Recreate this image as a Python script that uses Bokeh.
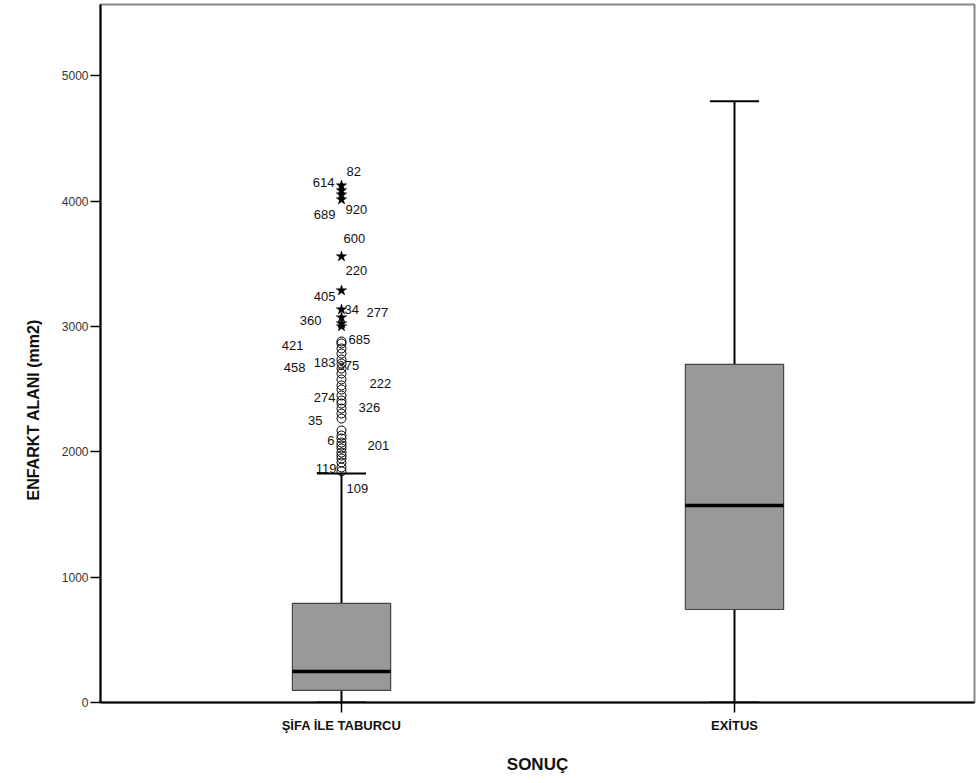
from bokeh.plotting import figure
from bokeh.models import ColumnDataSource, FixedTicker, Range1d, Title
from bokeh.core.properties import value
from bokeh.embed import file_html
from bokeh.resources import INLINE

# ---- data ----
categories = ["ŞİFA İLE TABURCU", "EXİTUS"]
positions = [1, 2]
lower_whisker = [0, 0]
q1 = [96, 742]
median = [247, 1572]
q3 = [790, 2697]
upper_whisker = [1827, 4796]

# outliers of group 1 (ŞİFA İLE TABURCU)
circle_outliers = [2880, 2864, 2824, 2784, 2736, 2704, 2664, 2624, 2577, 2529, 2497,
                   2449, 2409, 2385, 2345, 2305, 2265, 2170, 2130, 2106, 2074, 2050,
                   2026, 1994, 1970, 1946, 1914, 1875, 1845]
star_outliers = [4124, 4084, 4052, 4012, 3558, 3287, 3135, 3071, 3023, 3000]

label_texts = ["82", "614", "689", "920", "600", "220", "405", "34", "277", "360",
               "685", "421", "458", "183", "375", "222", "274", "326", "35", "6",
               "201", "119", "109"]
label_values = [4236, 4148, 3893, 3933, 3701, 3446, 3239, 3135, 3111, 3047,
                2896, 2848, 2672, 2712, 2688, 2545, 2433, 2353, 2250, 2090,
                2050, 1866, 1707]
label_dx = [5, -7, -6, 4, 2, 4, -6, 3, 25, -20,
            7, -38, -36, -6, -4, 28, -6, 17, -19, -7,
            26, -5, 5]
label_align = ["left", "right", "right", "left", "left", "left", "right", "left", "left", "right",
               "left", "right", "right", "right", "left", "left", "right", "left", "right", "right",
               "left", "right", "left"]

y_ticks = [0, 1000, 2000, 3000, 4000, 5000]
y_title = "ENFARKT ALANI (mm2)"
x_title = "SONUÇ"

X_START, X_END = 0.3868, 2.6107
Y_START, Y_END = 0, 5568

# ---- figure ----
p = figure(width=976, height=779, output_backend="svg", toolbar_location=None,
           x_range=Range1d(X_START, X_END), y_range=Range1d(Y_START, Y_END),
           min_border_left=100, min_border_top=4, min_border_right=2, min_border_bottom=77)
p.xgrid.visible = False
p.ygrid.visible = False
p.background_fill_color = "white"
p.outline_line_color = "#888888"
p.outline_line_width = 2

box_w = 0.25
cap_w = 0.125
src = ColumnDataSource(dict(
    x=positions, lo=lower_whisker, q1=q1, med=median, q3=q3, hi=upper_whisker,
    bl=[x - box_w / 2 for x in positions], br=[x + box_w / 2 for x in positions],
    cl=[x - cap_w / 2 for x in positions], cr=[x + cap_w / 2 for x in positions],
))

# whiskers
p.segment(x0="x", y0="q3", x1="x", y1="hi", source=src, line_color="black", line_width=2)
p.segment(x0="x", y0="lo", x1="x", y1="q1", source=src, line_color="black", line_width=2)
p.segment(x0="cl", y0="hi", x1="cr", y1="hi", source=src, line_color="black", line_width=2)
p.segment(x0="cl", y0="lo", x1="cr", y1="lo", source=src, line_color="black", line_width=2)
# boxes
p.quad(left="bl", right="br", bottom="q1", top="q3", source=src,
       fill_color="#999999", line_color="#444444", line_width=1.2)
# medians
p.segment(x0="bl", y0="med", x1="br", y1="med", source=src, line_color="black", line_width=3.5)

# outliers
p.scatter(x=[positions[0]] * len(circle_outliers), y=circle_outliers, marker="circle",
          size=9, fill_color=None, line_color="black", line_width=1)
p.scatter(x=[positions[0]] * len(star_outliers), y=star_outliers, marker="star",
          size=11, fill_color="black", line_color="black", line_width=0.5)

# outlier labels
for t, v, dx, al in zip(label_texts, label_values, label_dx, label_align):
    p.text(x=[positions[0]], y=[v], text=[t], x_offset=dx, text_align=al,
           text_baseline="middle", text_font=value("Liberation Sans"),
           text_font_size="13px", text_color="#111111")

# axes
p.xaxis.ticker = FixedTicker(ticks=positions)
p.xaxis.major_label_overrides = {pos: c for pos, c in zip(positions, categories)}
p.xaxis.major_label_text_font = "Liberation Sans"
p.xaxis.major_label_text_font_style = "bold"
p.xaxis.major_label_text_font_size = "13px"
p.xaxis.major_label_text_color = "#111111"
p.xaxis.major_label_standoff = 5
p.xaxis.axis_label = x_title
p.xaxis.axis_label_text_font = "Liberation Sans"
p.xaxis.axis_label_text_font_style = "bold"
p.xaxis.axis_label_text_font_size = "17px"
p.xaxis.axis_label_text_color = "#111111"
p.xaxis.axis_label_standoff = 19

p.yaxis.ticker = FixedTicker(ticks=y_ticks)
p.yaxis.major_label_text_font = "Liberation Sans"
p.yaxis.major_label_text_font_size = "12px"
p.yaxis.major_label_text_color = "#333333"
p.yaxis.major_label_standoff = 2

# y title in the left panel, shifted below the frame centre as in the reference
p.add_layout(Title(text=y_title, align="left", offset=202, standoff=33,
                   text_font="Liberation Sans", text_font_style="bold",
                   text_font_size="16px", text_color="#111111"), "left")

for ax in (p.xaxis, p.yaxis):
    ax.axis_line_color = "black"
    ax.axis_line_width = 2
    ax.major_tick_line_color = "black"
    ax.major_tick_line_width = 1.5
    ax.major_tick_out = 10
    ax.major_tick_in = 0
    ax.minor_tick_line_color = None

open("out.html", "w").write(file_html(p, INLINE))
